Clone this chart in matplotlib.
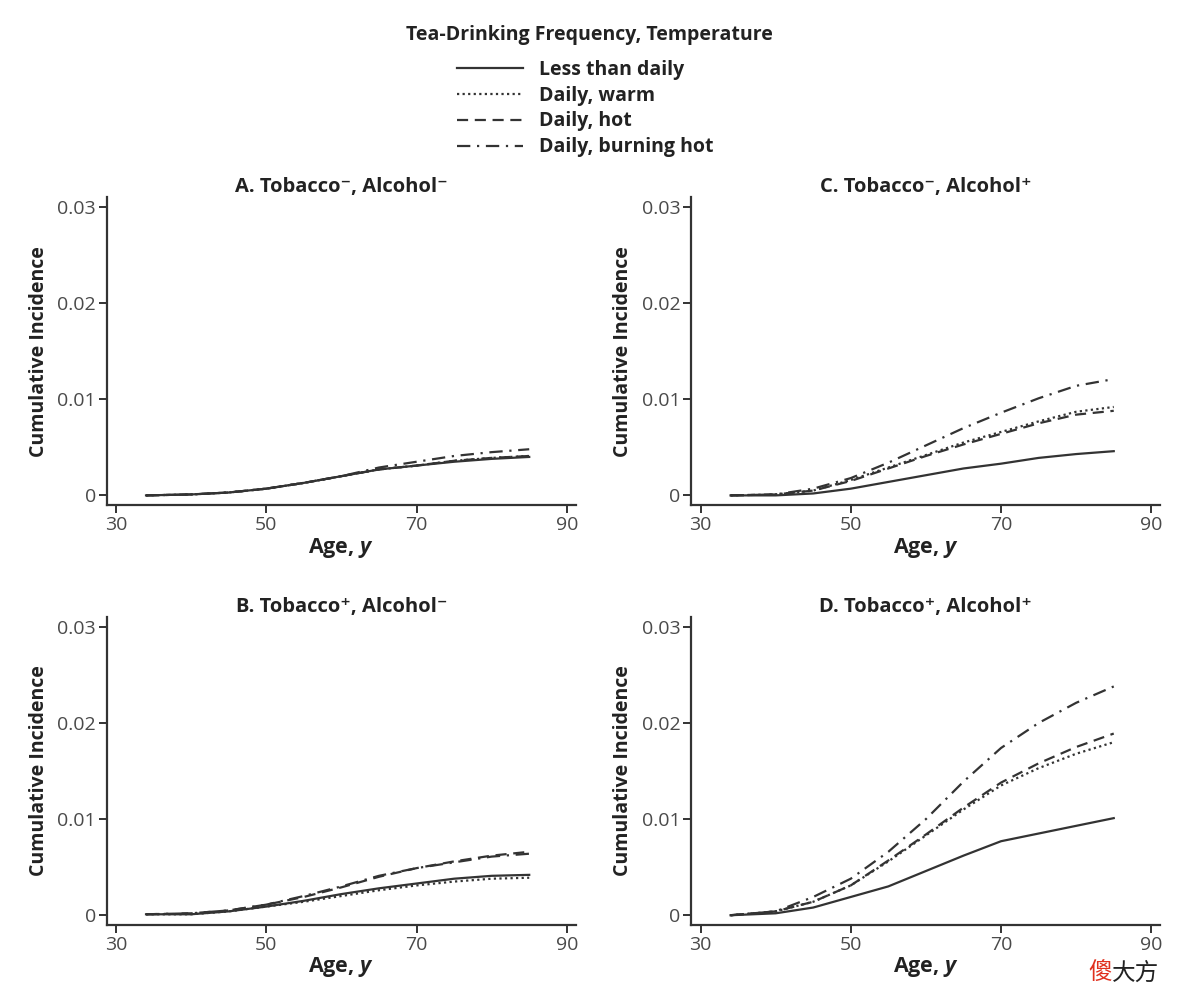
import matplotlib
matplotlib.use("Agg")
import matplotlib.pyplot as plt

plt.rcParams['font.family'] = ['Open Sans', 'DejaVu Sans']
plt.rcParams['mathtext.fontset'] = 'custom'
plt.rcParams['mathtext.it'] = 'Open Sans:italic:bold'

ages = [34, 40, 45, 50, 55, 60, 65, 70, 75, 80, 85]

series_names = ["Less than daily", "Daily, warm", "Daily, hot", "Daily, burning hot"]

# A. Tobacco-, Alcohol-
a_less = [0, 0.0001, 0.0003, 0.0007, 0.0013, 0.0020, 0.0027, 0.0031, 0.0035, 0.0038, 0.0040]
a_warm = [0, 0.0001, 0.0003, 0.0007, 0.0013, 0.0020, 0.0027, 0.0031, 0.0036, 0.0039, 0.0041]
a_hot = [0, 0.0001, 0.0003, 0.0007, 0.0013, 0.0020, 0.0027, 0.0031, 0.0036, 0.0039, 0.0041]
a_burn = [0, 0.0001, 0.0003, 0.0007, 0.0013, 0.0020, 0.0029, 0.0035, 0.0041, 0.0045, 0.0048]

# B. Tobacco+, Alcohol-
b_less = [0.0001, 0.0001, 0.0004, 0.0009, 0.0015, 0.0022, 0.0028, 0.0033, 0.0038, 0.0041, 0.0042]
b_warm = [0.0001, 0.0001, 0.0004, 0.0009, 0.0014, 0.0020, 0.0026, 0.0031, 0.0035, 0.0038, 0.0039]
b_hot = [0.0001, 0.0002, 0.0005, 0.0011, 0.0019, 0.0029, 0.0040, 0.0049, 0.0056, 0.0062, 0.0066]
b_burn = [0.0001, 0.0002, 0.0005, 0.0011, 0.0020, 0.0030, 0.0041, 0.0049, 0.0055, 0.0061, 0.0064]

# C. Tobacco-, Alcohol+
c_less = [0, 0, 0.0002, 0.0007, 0.0014, 0.0021, 0.0028, 0.0033, 0.0039, 0.0043, 0.0046]
c_warm = [0, 0.0001, 0.0005, 0.0016, 0.0029, 0.0042, 0.0055, 0.0066, 0.0077, 0.0087, 0.0092]
c_hot = [0, 0.0001, 0.0005, 0.0015, 0.0028, 0.0041, 0.0053, 0.0064, 0.0075, 0.0084, 0.0088]
c_burn = [0, 0.0001, 0.0007, 0.0018, 0.0034, 0.0052, 0.0070, 0.0086, 0.0101, 0.0114, 0.0121]

# D. Tobacco+, Alcohol+
d_less = [0, 0.0002, 0.0008, 0.0019, 0.0030, 0.0046, 0.0062, 0.0077, 0.0085, 0.0093, 0.0101]
d_warm = [0, 0.0004, 0.0014, 0.0031, 0.0056, 0.0083, 0.0110, 0.0135, 0.0153, 0.0168, 0.0180]
d_hot = [0, 0.0004, 0.0014, 0.0031, 0.0057, 0.0084, 0.0112, 0.0138, 0.0158, 0.0175, 0.0189]
d_burn = [0, 0.0004, 0.0019, 0.0038, 0.0066, 0.0100, 0.0139, 0.0174, 0.0200, 0.0221, 0.0238]

panels = [
    ("A. Tobacco\u207b, Alcohol\u207b", [a_less, a_warm, a_hot, a_burn]),
    ("C. Tobacco\u207b, Alcohol\u207a", [c_less, c_warm, c_hot, c_burn]),
    ("B. Tobacco\u207a, Alcohol\u207b", [b_less, b_warm, b_hot, b_burn]),
    ("D. Tobacco\u207a, Alcohol\u207a", [d_less, d_warm, d_hot, d_burn]),
]

line_styles = ['-', (0, (1, 1.5)), (0, (5, 3)), (0, (6, 3, 1, 3))]
ink = '#333333'
tick_col = '#4a4a4a'

fig = plt.figure(figsize=(11.78, 10.02), dpi=100)

# axes boxes in figure fractions [left, bottom, width, height]
boxes = [
    [0.0908, 0.496, 0.398, 0.307],
    [0.587, 0.496, 0.398, 0.307],
    [0.0908, 0.077, 0.398, 0.307],
    [0.587, 0.077, 0.398, 0.307],
]

handles = []
for box, (title, data) in zip(boxes, panels):
    ax = fig.add_axes(box)
    for vals, ls, name in zip(data, line_styles, series_names):
        ln, = ax.plot(ages, vals, color=ink, linestyle=ls, linewidth=1.6, label=name)
        if len(handles) < 4:
            handles.append(ln)
    ax.set_xlim(28.8, 91.2)
    ax.set_ylim(-0.001, 0.031)
    ax.set_xticks([30, 50, 70, 90])
    ax.set_yticks([0, 0.01, 0.02, 0.03])
    ax.set_yticklabels(["0", "0.01", "0.02", "0.03"])
    ax.tick_params(direction='out', length=6, width=1.4, color=ink,
                   labelsize=14, labelcolor=tick_col, pad=2)
    for s in ['top', 'right']:
        ax.spines[s].set_visible(False)
    for s in ['left', 'bottom']:
        ax.spines[s].set_linewidth(1.6)
        ax.spines[s].set_color(ink)
    ax.set_title(title, fontsize=14.5, fontweight='bold', color='#222222', pad=4)
    ax.set_ylabel("Cumulative Incidence", fontsize=14, fontweight='bold',
                  color='#222222', labelpad=6)
    ax.set_xlabel("Age, $y$", fontsize=15.5, fontweight='bold', color='#222222', labelpad=1)

fig.text(0.5, 1 - 35 / 1002, "Tea-Drinking Frequency, Temperature", ha='center', va='center',
         fontsize=14, fontweight='bold', color='#222222')

leg = fig.legend(handles, series_names, loc='upper center', bbox_to_anchor=(0.497, 0.95),
                 frameon=False, fontsize=14, handlelength=3.4, handletextpad=0.8,
                 labelspacing=0.3, borderpad=0)
for t in leg.get_texts():
    t.set_fontweight('bold')
    t.set_color('#222222')

# watermark
fig.text(0.924, 0.022, "\u50bb", color='#e0301e', fontsize=17, family=['Noto Sans CJK SC'])
fig.text(0.944, 0.022, "\u5927\u65b9", color='#222222', fontsize=17, family=['Noto Sans CJK SC'])

fig.savefig("out.png", dpi=100, facecolor='white')
